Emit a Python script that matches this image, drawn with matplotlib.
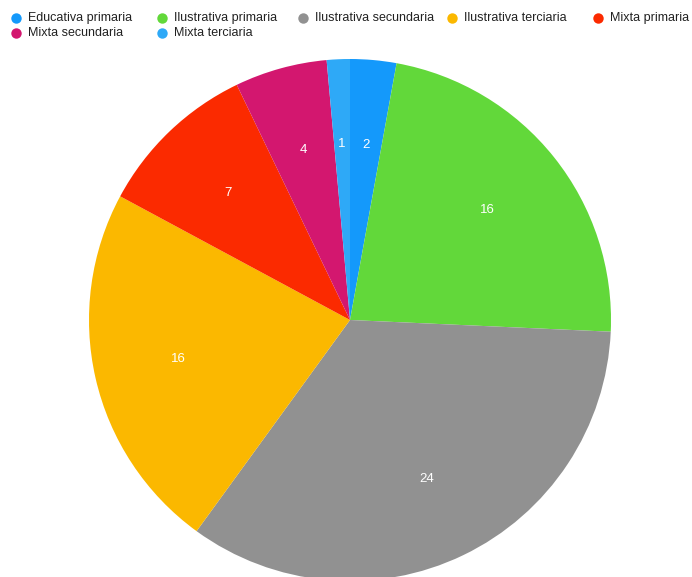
import matplotlib.pyplot as plt
from matplotlib.lines import Line2D

## Data ##
categories = ["Educativa primaria", "Ilustrativa primaria", "Ilustrativa secundaria",
              "Ilustrativa terciaria", "Mixta primaria", "Mixta secundaria", "Mixta terciaria"]
values = [2, 16, 24, 16, 7, 4, 1]
colors = ["#1499fb", "#62d83a", "#919191", "#fbb800", "#fb2a00", "#d3176f", "#2ea9f7"]

plt.rcParams['font.family'] = ['Liberation Sans', 'DejaVu Sans']

W, H = 692, 577
fig = plt.figure(figsize=(W / 100, H / 100), dpi=100)

# pie centred near (350, 320) px, radius ~261 px
cx, cy, r = 350, 320, 261
ax = fig.add_axes([(cx - r) / W, (H - cy - r) / H, 2 * r / W, 2 * r / H])
wedges, texts = ax.pie(values, colors=colors, startangle=90, counterclock=False,
                       labels=[str(v) for v in values], labeldistance=0.675,
                       radius=1, wedgeprops=dict(linewidth=0))
for t in texts:
    t.set_color("white")
    t.set_fontsize(9.5)
    t.set_ha("center")
    t.set_va("center")
ax.set_xlim(-1, 1)
ax.set_ylim(-1, 1)
ax.set_aspect("equal")
ax.axis("off")

# legend drawn by hand, row by row (pixel positions of each marker)
legend_pos = [(16, 18), (162, 18), (303, 18), (452, 18), (598, 18),
              (16, 33), (162, 33)]
for (x, y), name, c in zip(legend_pos, categories, colors):
    fig.add_artist(Line2D([x / W], [1 - y / H], transform=fig.transFigure,
                          marker="o", linestyle="", markersize=7.5,
                          markerfacecolor=c, markeredgewidth=0))
    fig.text((x + 12) / W, 1 - y / H, name, fontsize=9, color="#222222",
             ha="left", va="center")

fig.savefig("out.png", dpi=100)
